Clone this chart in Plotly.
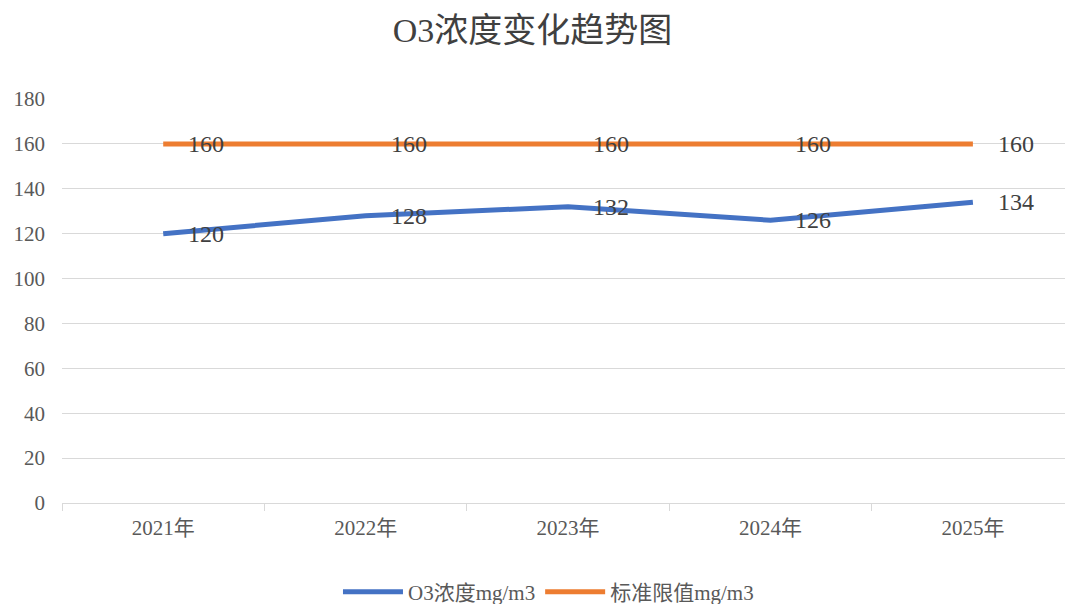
import plotly.graph_objects as go

years = ['2021年', '2022年', '2023年', '2024年', '2025年']
o3 = [120, 128, 132, 126, 134]
limit = [160, 160, 160, 160, 160]
y_ticks = [0, 20, 40, 60, 80, 100, 120, 140, 160, 180]

serif = 'Liberation Serif, Times New Roman, Noto Sans CJK SC, serif'
blue = '#4472C4'
orange = '#ED7D31'

fig = go.Figure()
fig.add_trace(go.Scatter(x=years, y=o3, mode='lines', name='O3浓度mg/m3',
                         line=dict(color=blue, width=5)))
fig.add_trace(go.Scatter(x=years, y=limit, mode='lines', name='标准限值mg/m3',
                         line=dict(color=orange, width=5)))

# data labels to the right of each point
for series in (o3, limit):
    for x, y in zip(years, series):
        fig.add_annotation(x=x, y=y, text=str(y), showarrow=False,
                           xanchor='left', yanchor='middle', xshift=23,
                           font=dict(family=serif, size=24, color='#404040'))

fig.update_layout(
    width=1065, height=604,
    paper_bgcolor='white', plot_bgcolor='white',
    margin=dict(l=62, r=0, t=99, b=101),
    title=dict(text='O3浓度变化趋势图', x=0.5, xref='container', xanchor='center',
               y=1 - 30 / 604, yref='container', yanchor='middle',
               font=dict(family=serif, size=34, color='#404040')),
    font=dict(family=serif, color='#595959'),
    showlegend=True,
    legend=dict(orientation='h', xref='container', yref='container',
                x=0.515, xanchor='center', y=12 / 604, yanchor='middle',
                font=dict(family=serif, size=21, color='#595959'),
                itemwidth=60, tracegroupgap=0),
)
fig.update_xaxes(range=[-0.5, 4.455], showgrid=False, showline=True,
                 linecolor='#d9d9d9', linewidth=1,
                 ticks='outside', tickson='boundaries', ticklen=7,
                 tickcolor='#d9d9d9', ticklabelstandoff=6,
                 tickfont=dict(size=21, color='#595959'))
fig.update_yaxes(range=[0, 180], tickvals=y_ticks, showgrid=True,
                 gridcolor='#d9d9d9', gridwidth=1, zeroline=False,
                 showline=False, ticks='', ticklabelstandoff=16,
                 tickfont=dict(size=21, color='#595959'))

# page body has a default 8px margin; drop it so the figure fills the window
fig.write_html('out.html', config={'displayModeBar': False},
               post_script="document.body.style.margin='0';")
